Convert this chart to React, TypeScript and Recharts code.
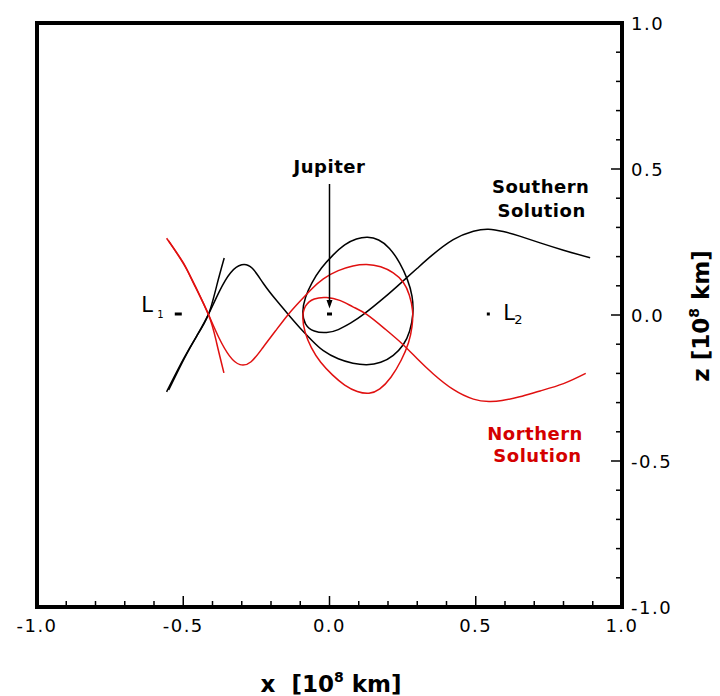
import React from 'react';
import {
  LineChart,
  Line,
  XAxis,
  YAxis,
  ReferenceArea,
  ReferenceDot,
  Label,
} from 'recharts';

// axis ticks every 0.1, labels only on the 0.5 steps
const xTicks = [-1.0, -0.9, -0.8, -0.7, -0.6, -0.5, -0.4, -0.3, -0.2, -0.1, 0.0, 0.1, 0.2, 0.3, 0.4, 0.5, 0.6, 0.7, 0.8, 0.9, 1.0];
const zTicks = [-1.0, -0.9, -0.8, -0.7, -0.6, -0.5, -0.4, -0.3, -0.2, -0.1, 0.0, 0.1, 0.2, 0.3, 0.4, 0.5, 0.6, 0.7, 0.8, 0.9, 1.0];
const tickLabels = ['-1.0', '-0.5', '0.0', '0.5', '1.0'];

// Southern solution (black)
const southernAX = [-0.557, -0.500, -0.454, -0.414, -0.386, -0.360];
const southernAZ = [-0.263, -0.152, -0.072, 0.002, 0.099, 0.195];

const southernBX = [
  -0.550, -0.494, -0.450, -0.414, -0.376, -0.338, -0.300, -0.264, -0.226, -0.183,
  -0.141, -0.100, -0.060, -0.021, 0.030, 0.080, 0.127, 0.175, 0.218, 0.252,
  0.274, 0.285, 0.282, 0.266, 0.240, 0.205, 0.168, 0.130, 0.092, 0.052,
  0.012, -0.028, -0.060, -0.082, -0.091, -0.082, -0.052, -0.010, 0.030, 0.073,
  0.116, 0.190, 0.250, 0.300, 0.350, 0.423, 0.492, 0.543, 0.594, 0.650,
  0.720, 0.800, 0.891,
];
const southernBZ = [
  -0.257, -0.144, -0.065, 0.002, 0.082, 0.145, 0.172, 0.160, 0.108, 0.052,
  0.002, -0.045, -0.087, -0.122, -0.150, -0.165, -0.170, -0.162, -0.138, -0.102,
  -0.055, 0.005, 0.065, 0.122, 0.178, 0.228, 0.257, 0.266, 0.260, 0.240,
  0.205, 0.160, 0.110, 0.060, 0.012, -0.030, -0.055, -0.060, -0.050, -0.027,
  0.002, 0.062, 0.115, 0.160, 0.204, 0.258, 0.287, 0.294, 0.286, 0.270,
  0.247, 0.222, 0.196,
];

// Northern solution (red)
const northernAX = [-0.557, -0.500, -0.466, -0.414, -0.386, -0.361];
const northernAZ = [0.263, 0.179, 0.111, 0.002, -0.095, -0.198];

const northernBX = [
  -0.550, -0.497, -0.456, -0.414, -0.378, -0.342, -0.306, -0.268, -0.228, -0.185,
  -0.141, -0.100, -0.060, -0.021, 0.030, 0.080, 0.127, 0.175, 0.218, 0.252,
  0.273, 0.284, 0.282, 0.270, 0.245, 0.210, 0.172, 0.135, 0.095, 0.052,
  0.010, -0.030, -0.062, -0.083, -0.091, -0.082, -0.052, -0.010, 0.035, 0.080,
  0.127, 0.190, 0.250, 0.300, 0.355, 0.423, 0.492, 0.545, 0.590, 0.650,
  0.720, 0.800, 0.876,
];
const northernBZ = [
  0.254, 0.172, 0.093, 0.002, -0.078, -0.140, -0.170, -0.160, -0.112, -0.055,
  0.002, 0.048, 0.090, 0.124, 0.152, 0.168, 0.173, 0.165, 0.144, 0.112,
  0.068, 0.015, -0.040, -0.095, -0.155, -0.213, -0.253, -0.268, -0.262, -0.240,
  -0.205, -0.162, -0.112, -0.060, -0.012, 0.030, 0.055, 0.060, 0.050, 0.028,
  0.002, -0.048, -0.100, -0.150, -0.202, -0.255, -0.288, -0.296, -0.293, -0.280,
  -0.260, -0.235, -0.200,
];

const toPoints = (xs: number[], zs: number[]) => xs.map((x, i) => ({ x, z: zs[i] }));

const FONT = '"DejaVu Sans", "Liberation Sans", Arial, sans-serif';
const BLACK = '#000000';
const RED = '#e01010';
const RED_TEXT = '#d40000';

const XTick = ({ x, y, payload }: any) => {
  const label = Number(payload.value).toFixed(1);
  const major = tickLabels.includes(label);
  return (
    <g>
      <line x1={x} x2={x} y1={y} y2={y - (major ? 11 : 6)} stroke={BLACK} strokeWidth={1.5} />
      {major && (
        <text x={x} y={y + 25} textAnchor="middle" fontFamily={FONT} fontSize={18} letterSpacing={1.5} fill={BLACK}>
          {label}
        </text>
      )}
    </g>
  );
};

const ZTick = ({ x, y, payload }: any) => {
  const label = Number(payload.value).toFixed(1);
  const major = tickLabels.includes(label);
  return (
    <g>
      <line x1={x} x2={x - (major ? 11 : 6)} y1={y} y2={y} stroke={BLACK} strokeWidth={1.5} />
      {major && (
        <text x={x + 9} y={y + 6.5} textAnchor="start" fontFamily={FONT} fontSize={18} letterSpacing={1.5} fill={BLACK}>
          {label}
        </text>
      )}
    </g>
  );
};

const note = (text: string, color: string) => (p: any) => (
  <text x={p.cx} y={p.cy} textAnchor="middle" fontFamily={FONT} fontWeight="bold" fontSize={18} letterSpacing={0.5} fill={color}>
    {text}
  </text>
);

export default function App() {
  return (
    <div style={{ position: 'absolute', left: 0, top: 0, background: '#fff' }}>
      <LineChart width={720} height={696} margin={{ top: 23, right: 38, bottom: 49, left: 37 }}>
        <XAxis
          dataKey="x"
          type="number"
          domain={[-1, 1]}
          ticks={xTicks}
          interval={0}
          allowDataOverflow
          axisLine={false}
          tickLine={false}
          tickSize={0}
          tickMargin={0}
          tick={<XTick />}
          height={40}
        >
          <Label
            content={() => (
              <text x={331} y={692} textAnchor="middle" fontFamily={FONT} fontWeight="bold" fontSize={23} fill={BLACK} style={{ whiteSpace: 'pre' }}>
                {'x  [10'}
                <tspan dy={-10} fontSize={14}>8</tspan>
                <tspan dy={10}>{' km]'}</tspan>
              </text>
            )}
          />
        </XAxis>
        <YAxis
          dataKey="z"
          type="number"
          orientation="right"
          domain={[-1, 1]}
          ticks={zTicks}
          interval={0}
          allowDataOverflow
          axisLine={false}
          tickLine={false}
          tickSize={0}
          tickMargin={0}
          tick={<ZTick />}
          width={60}
        >
          <Label
            content={() => (
              <text transform="translate(708.5,316) rotate(-90)" x={0} y={0} textAnchor="middle" fontFamily={FONT} fontWeight="bold" fontSize={23} fill={BLACK}>
                {'z [10'}
                <tspan dy={-10} fontSize={14}>8</tspan>
                <tspan dy={10}>{' km]'}</tspan>
              </text>
            )}
          />
        </YAxis>

        <ReferenceArea x1={-1} x2={1} y1={-1} y2={1} fill="none" stroke={BLACK} strokeWidth={4} />

        <Line data={toPoints(southernAX, southernAZ)} dataKey="z" type="natural" stroke={BLACK} strokeWidth={1.5} dot={false} activeDot={false} isAnimationActive={false} />
        <Line data={toPoints(southernBX, southernBZ)} dataKey="z" type="natural" stroke={BLACK} strokeWidth={1.5} dot={false} activeDot={false} isAnimationActive={false} />
        <Line data={toPoints(northernAX, northernAZ)} dataKey="z" type="natural" stroke={RED} strokeWidth={1.5} dot={false} activeDot={false} isAnimationActive={false} />
        <Line data={toPoints(northernBX, northernBZ)} dataKey="z" type="natural" stroke={RED} strokeWidth={1.5} dot={false} activeDot={false} isAnimationActive={false} />

        {/* Jupiter with arrow */}
        <ReferenceDot
          x={0}
          y={0}
          r={0}
          shape={(p: any) => (
            <g>
              <rect x={p.cx - 2.5} y={p.cy - 2.5} width={5} height={3} fill={BLACK} />
              <line x1={p.cx} x2={p.cx} y1={p.cy - 131} y2={p.cy - 13} stroke={BLACK} strokeWidth={1.5} />
              <polygon points={`${p.cx - 3},${p.cy - 15} ${p.cx + 3},${p.cy - 15} ${p.cx},${p.cy - 6.5}`} fill={BLACK} />
            </g>
          )}
        />
        <ReferenceDot x={0} y={0.485} r={0} shape={note('Jupiter', BLACK)} />

        {/* Lagrange points */}
        <ReferenceDot
          x={-0.517}
          y={0}
          r={0}
          shape={(p: any) => (
            <g>
              <rect x={p.cx - 3.5} y={p.cy - 2.5} width={7} height={3} fill={BLACK} />
              <text x={p.cx - 37} y={p.cy - 3} fontFamily={FONT} fontSize={21} fill={BLACK}>L</text>
              <text x={p.cx - 21} y={p.cy + 2.5} fontFamily={FONT} fontSize={10} fill={BLACK}>1</text>
            </g>
          )}
        />
        <ReferenceDot
          x={0.543}
          y={0}
          r={0}
          shape={(p: any) => (
            <g>
              <rect x={p.cx - 1.5} y={p.cy - 2.5} width={3} height={3} fill={BLACK} />
              <text x={p.cx + 15} y={p.cy + 5} fontFamily={FONT} fontSize={21} fill={BLACK}>L</text>
              <text x={p.cx + 26} y={p.cy + 8.5} fontFamily={FONT} fontSize={13} fill={BLACK}>2</text>
            </g>
          )}
        />

        <ReferenceDot x={0.722} y={0.418} r={0} shape={note('Southern', BLACK)} />
        <ReferenceDot x={0.725} y={0.337} r={0} shape={note('Solution', BLACK)} />
        <ReferenceDot x={0.703} y={-0.428} r={0} shape={note('Northern', RED_TEXT)} />
        <ReferenceDot x={0.711} y={-0.502} r={0} shape={note('Solution', RED_TEXT)} />
      </LineChart>
    </div>
  );
}
